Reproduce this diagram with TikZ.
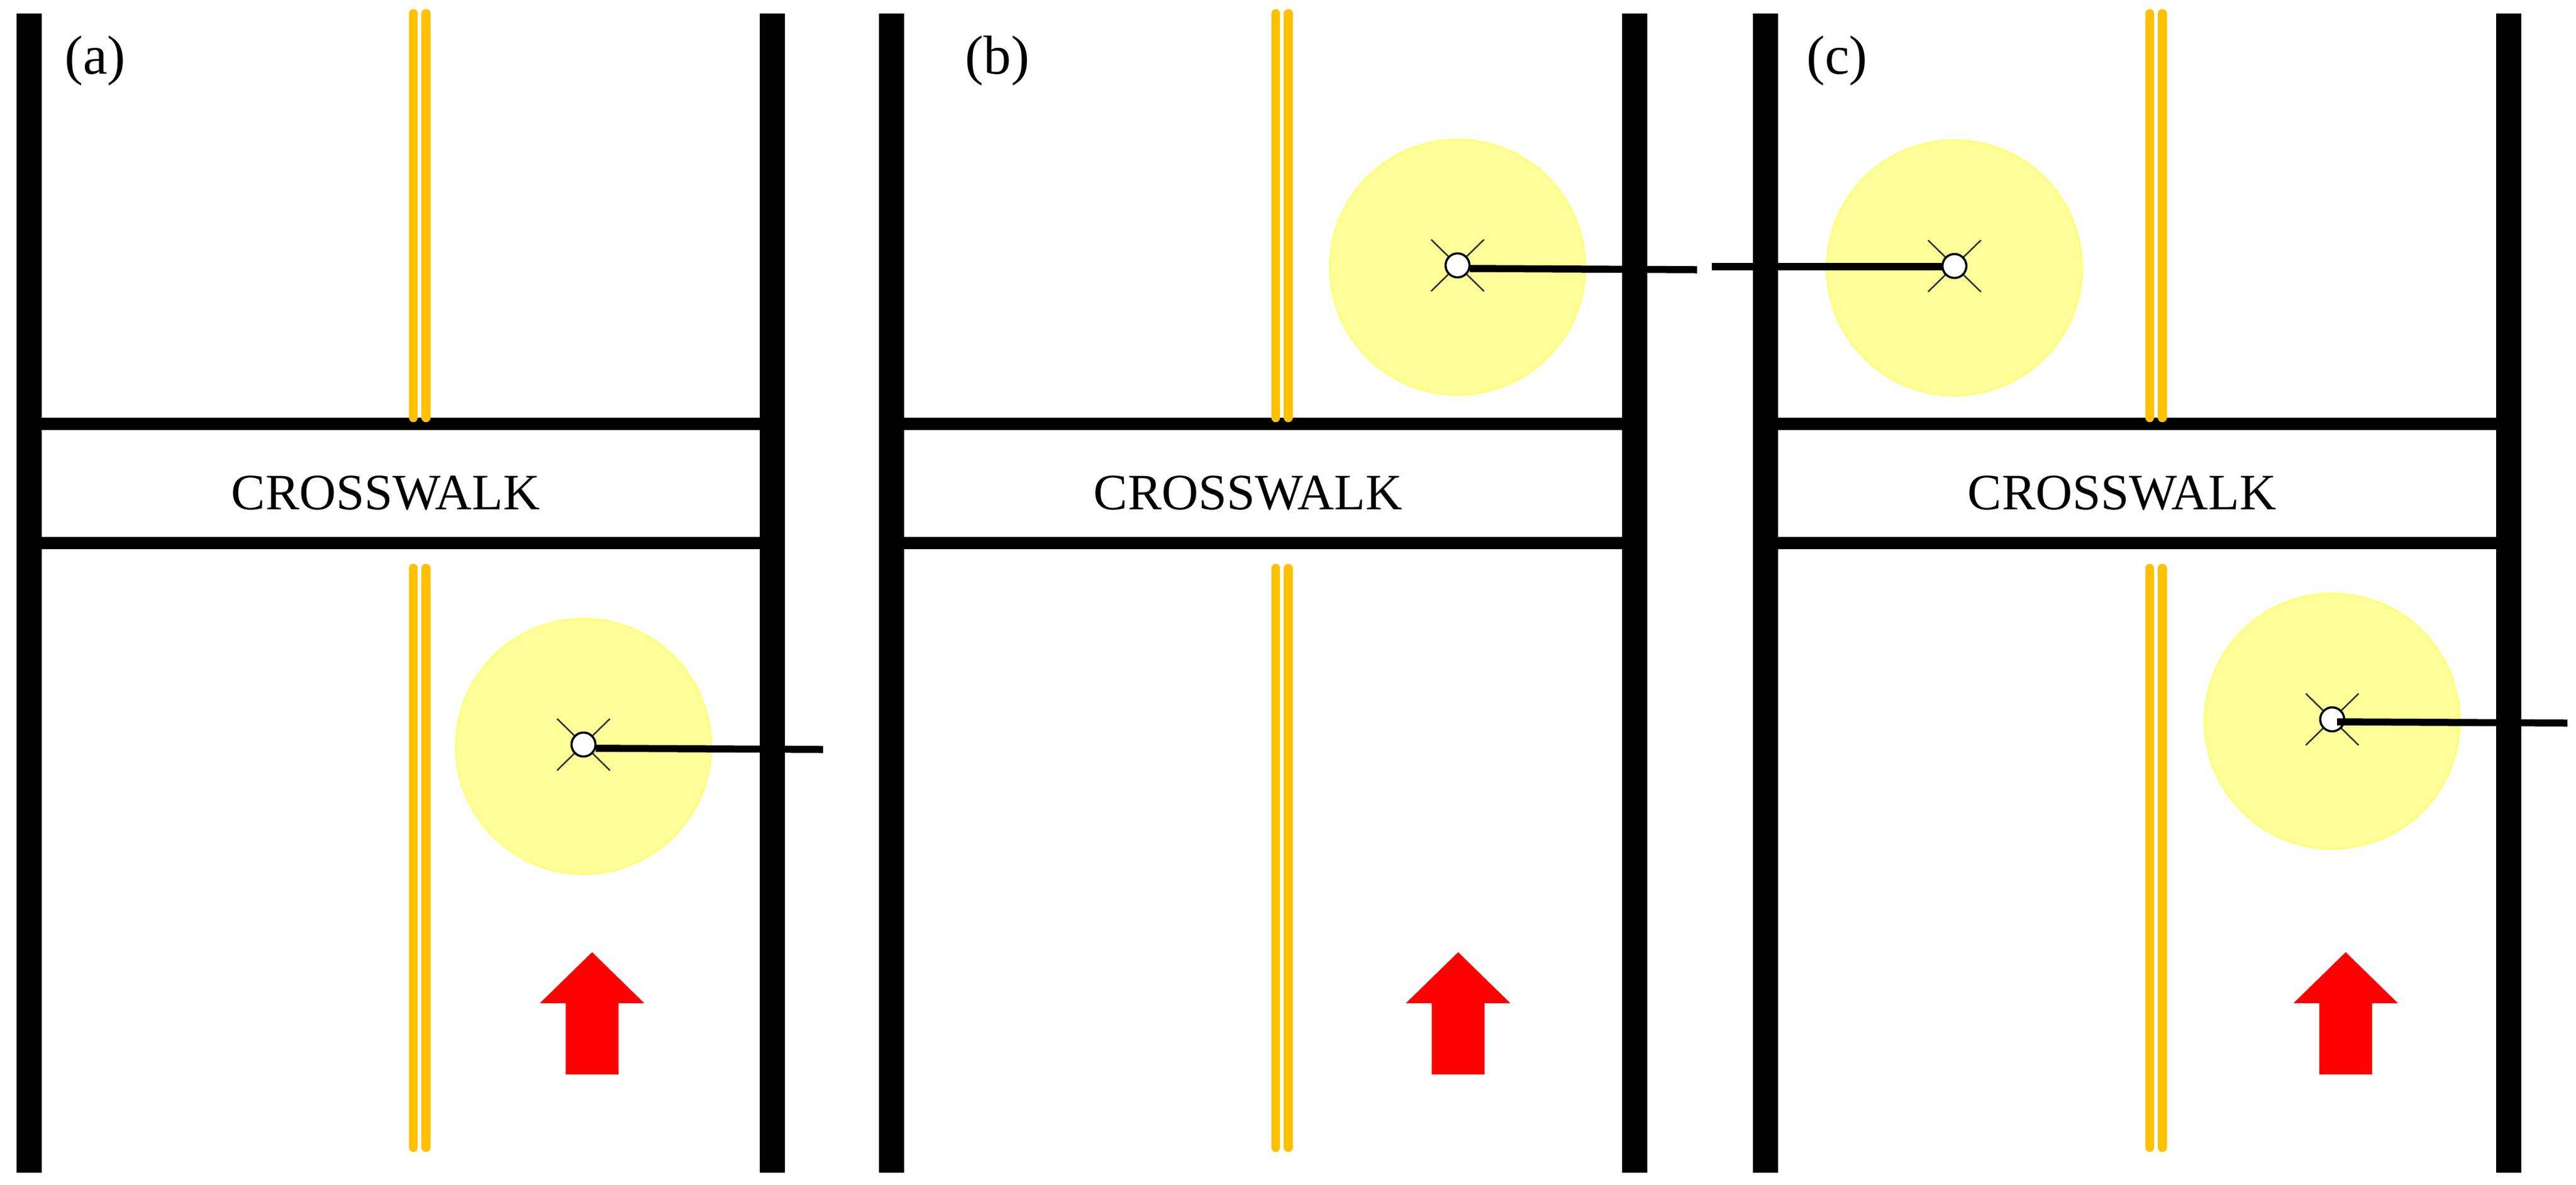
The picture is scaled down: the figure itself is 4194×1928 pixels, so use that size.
\documentclass[tikz,border=0pt]{standalone}
\usepackage{fontspec}
\usepackage[dvipsnames]{xcolor}
\setmainfont{Liberation Serif}
\definecolor{centerline}{HTML}{FFC000}
\definecolor{halofill}{HTML}{FFFF99}
\definecolor{haloedge}{HTML}{FFFF66}
\begin{document}
\begin{tikzpicture}[x=0.1mm,y=-0.1mm,
roadbar/.style={line width=4.1mm},
walkbar/.style={line width=2mm},
yellowline/.style={centerline,line width=1.45mm,line cap=round},
halo/.style={circle,fill=halofill,draw=haloedge,line width=0.2mm,minimum size=41.6mm,inner sep=0pt},
lamp/.style={circle,fill=white,draw,line width=0.35mm,minimum size=3.9mm,inner sep=0pt},
ray/.style={black!80,line width=0.25mm},
boom/.style={line width=1.15mm},
walktext/.style={font=\fontsize{23.6}{26}\selectfont,inner sep=0pt},
paneltext/.style={font=\fontsize{25.5}{28}\selectfont,inner sep=0pt}]
\useasboundingbox (0,0) rectangle (4194,1928);
\foreach \px/\nm/\lx/\ax in %
{0/a/155/964,1404/b/1624/2374,2827/c/2991/3819} {
   \draw[roadbar] (\px+47.5,22) -- (\px+47.5,1909);
   \draw[roadbar] (\px+1257.5,22) -- (\px+1257.5,1909);
   \draw[walkbar] (\px+47,690) -- (\px+1257,690);
   \draw[walkbar] (\px+47,884) -- (\px+1257,884);
   \foreach \yx in {673,693.5} {
      \draw[yellowline] (\px+\yx,22) -- (\px+\yx,680);
      \draw[yellowline] (\px+\yx,925) -- (\px+\yx,1868);
   }
   \node[walktext] (walk\nm) at (\px+628,803) {CROSSWALK};
   \node[paneltext] (panel\nm) at (\lx,99) {(\nm)};
   \fill[red] (\ax,1550) -- (\ax+85,1633) -- (\ax+43,1633) -- (\ax+43,1749) -- (\ax-43,1749) -- (\ax-43,1633) -- (\ax-85,1633) -- cycle;
}
% street lamps, boom ends at the free coordinate
\foreach \nm/\x/\y/\sx/\sy/\ex/\ey in %
{a/950/1212/20/6/1340/1220,b/2373/432/20/5/2763/439,cup/3182/433/-20/1/2787/434,cdown/3797/1171/8/4/4180/1177} {
   \node[halo] (halo\nm) at (\x,\y+3) {};
   \draw[ray] (\x-43,\y-42) -- (\x+43,\y+42);
   \draw[ray] (\x-43,\y+42) -- (\x+43,\y-42);
   \node[lamp] (lamp\nm) at (\x,\y) {};
   \coordinate (end\nm) at (\ex,\ey);
   \draw[boom] ([shift={(\sx,\sy)}]lamp\nm.center) -- (end\nm);
}
\end{tikzpicture}
\end{document}
